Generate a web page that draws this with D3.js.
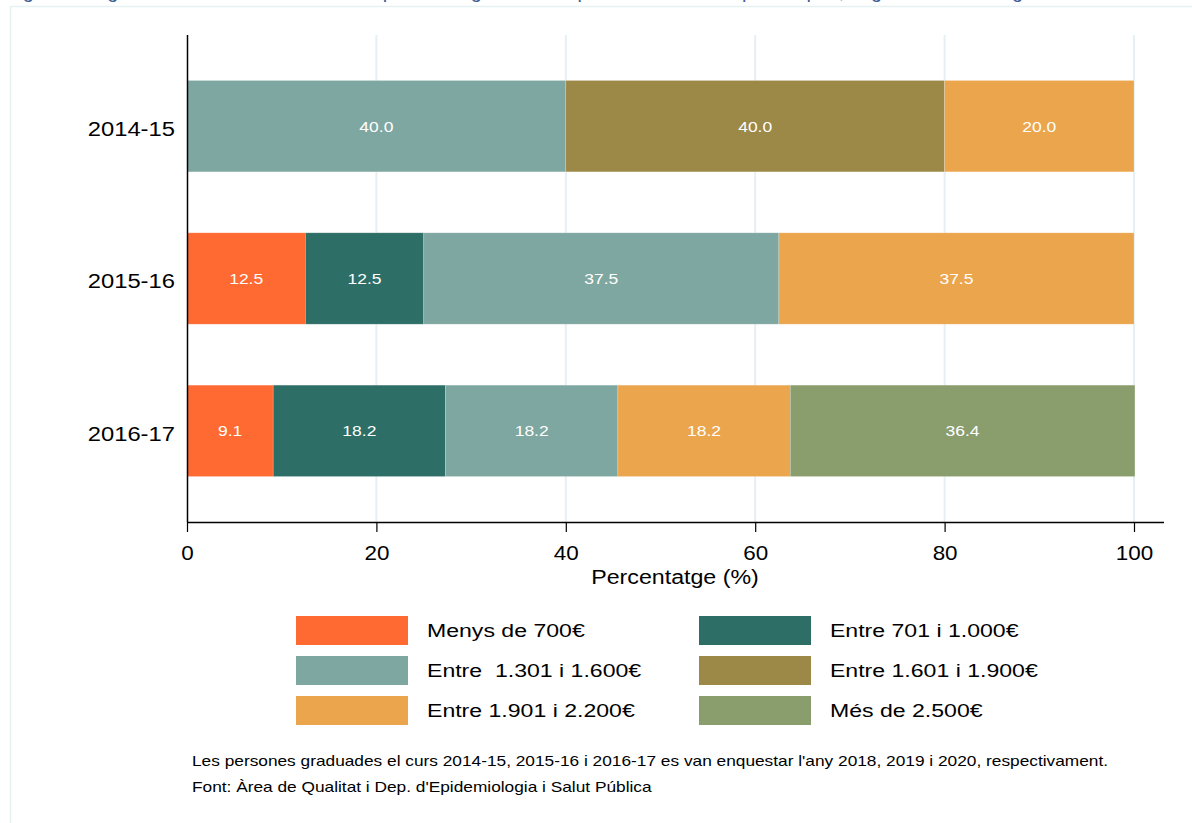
<!DOCTYPE html>
<html>
<head>
<meta charset="utf-8">
<script src="https://cdn.jsdelivr.net/npm/d3@7"></script>
<style>
  html, body { margin: 0; padding: 0; background: #ffffff; }
  svg { display: block; font-family: "Liberation Sans", Arial, sans-serif; }
</style>
</head>
<body>
<svg id="chart" width="1192" height="823"></svg>
<script>
// ---- Data ----
const years = ["2014-15", "2015-16", "2016-17"];
const categories = [
  "Menys de 700€",
  "Entre 701 i 1.000€",
  "Entre  1.301 i 1.600€",
  "Entre 1.601 i 1.900€",
  "Entre 1.901 i 2.200€",
  "Més de 2.500€"
];
const colors = ["#FF6A33", "#2D6E66", "#7FA7A1", "#9C8847", "#EBA64D", "#8A9D6D"];
// values per category, one per year (2014-15, 2015-16, 2016-17)
const menys700   = [0, 12.5, 9.1];
const e701_1000  = [0, 12.5, 18.2];
const e1301_1600 = [40.0, 37.5, 18.2];
const e1601_1900 = [40.0, 0, 0];
const e1901_2200 = [20.0, 37.5, 18.2];
const mes2500    = [0, 0, 36.4];
const seriesValues = [menys700, e701_1000, e1301_1600, e1601_1900, e1901_2200, mes2500];
const xTicks = [0, 20, 40, 60, 80, 100];
const xTitle = "Percentatge (%)";
const titleText = "Figura 9. Ingressos mensuals bruts de les persones graduades que treballen a temps complet, segons el curs de graduació";
const notes = [
  "Les persones graduades el curs 2014-15, 2015-16 i 2016-17 es van enquestar l'any 2018, 2019 i 2020, respectivament.",
  "Font: Àrea de Qualitat i Dep. d'Epidemiologia i Salut Pública"
];

// ---- helpers ----
// horizontally stretch text around its anchor point
function stretch(sel, sx) {
  sel.each(function () {
    const t = d3.select(this);
    const x0 = +t.attr("x") || 0, y0 = +t.attr("y") || 0;
    t.attr("transform", `translate(${x0},${y0}) scale(${sx},1) translate(${-x0},${-y0})`);
  });
}

// ---- Layout ----
const svg = d3.select("#chart");
const W = 1192, H = 823;
const plot = { left: 187, right: 1134, top: 35, bottom: 522 };

// border box
svg.append("rect")
  .attr("x", 10.5).attr("y", 6.5)
  .attr("width", W + 10).attr("height", H + 10)
  .attr("fill", "none").attr("stroke", "#e8f1f1").attr("stroke-width", 1.5);

// cut-off title
svg.append("text")
  .attr("x", 6).attr("y", -2)
  .attr("fill", "#3f5f96")
  .attr("font-size", 20)
  .text(titleText);

const x = d3.scaleLinear().domain([0, 100]).range([plot.left, plot.right]);
const y = d3.scaleBand().domain(years).range([50, 507]).paddingInner(0.4).paddingOuter(0.2);

// grid lines
svg.append("g").selectAll("line")
  .data(xTicks.filter(d => d > 0))
  .join("line")
  .attr("x1", d => x(d)).attr("x2", d => x(d))
  .attr("y1", plot.top).attr("y2", plot.bottom)
  .attr("stroke", "#e6eff3").attr("stroke-width", 2);

// stacked data
const stackRows = years.map((yr, i) => {
  const row = { year: yr };
  categories.forEach((c, j) => { row[c] = seriesValues[j][i]; });
  return row;
});
const stacked = d3.stack().keys(categories)(stackRows);

const barG = svg.append("g");
stacked.forEach((layer, j) => {
  const g = barG.append("g");
  g.selectAll("rect")
    .data(layer.filter(d => d[1] - d[0] > 0))
    .join("rect")
    .attr("x", d => x(d[0]))
    .attr("y", d => y(d.data.year))
    .attr("width", d => x(d[1]) - x(d[0]))
    .attr("height", y.bandwidth())
    .attr("fill", colors[j])
    .attr("stroke", "#ffffff").attr("stroke-opacity", 0.35).attr("stroke-width", 0.6);
  g.selectAll("text")
    .data(layer.filter(d => d[1] - d[0] > 0))
    .join("text")
    .attr("x", d => (x(d[0]) + x(d[1])) / 2)
    .attr("y", d => y(d.data.year) + y.bandwidth() / 2 + 5.5)
    .attr("text-anchor", "middle")
    .attr("fill", "#ffffff")
    .attr("font-size", 15.5)
    .text(d => (d[1] - d[0]).toFixed(1))
    .call(stretch, 1.13);
});

// x axis
const xAxis = d3.axisBottom(x).tickValues(xTicks).tickSize(10).tickSizeOuter(0).tickFormat(d3.format("d"));
const xg = svg.append("g").attr("transform", `translate(0,${plot.bottom})`).call(xAxis);
xg.select(".domain").attr("d", `M${plot.left},0.5H1164`).attr("stroke", "#000").attr("stroke-width", 1.5);
xg.selectAll(".tick line").attr("stroke", "#000").attr("stroke-width", 1.2);
xg.selectAll(".tick text").attr("font-size", 19.5).attr("font-family", "Liberation Sans, Arial, sans-serif")
  .attr("fill", "#000").attr("y", 31).attr("dy", "0.35em").call(stretch, 1.15);

const xt = svg.append("text")
  .attr("x", 675).attr("y", 584)
  .attr("text-anchor", "middle")
  .attr("font-size", 19.5).attr("fill", "#000")
  .text(xTitle);
stretch(xt, 1.19);

// y axis
const yAxis = d3.axisLeft(y).tickSize(0).tickPadding(12);
const yg = svg.append("g").attr("transform", `translate(${plot.left},0)`).call(yAxis);
yg.select(".domain").attr("d", `M0.5,${plot.top}V${plot.bottom}`).attr("stroke", "#000").attr("stroke-width", 1.5);
yg.selectAll(".tick text").attr("font-size", 19.5).attr("font-family", "Liberation Sans, Arial, sans-serif")
  .attr("fill", "#000").attr("dy", "0.5em").call(stretch, 1.22);

// legend
const legX = [296, 699];
const legRowY = [616, 656, 696];
const legend = svg.append("g");
categories.forEach((c, j) => {
  const col = j % 2, row = Math.floor(j / 2);
  legend.append("rect")
    .attr("x", legX[col]).attr("y", legRowY[row])
    .attr("width", 112).attr("height", 29)
    .attr("fill", colors[j]);
  const t = legend.append("text")
    .attr("x", legX[col] + 131).attr("y", legRowY[row] + 21.5)
    .attr("font-size", 19).attr("fill", "#000")
    .attr("xml:space", "preserve")
    .style("white-space", "pre")
    .text(c);
  stretch(t, 1.215);
});

// notes
notes.forEach((n, i) => {
  const t = svg.append("text")
    .attr("x", 192).attr("y", 766 + i * 26)
    .attr("font-size", 14).attr("fill", "#000")
    .text(n);
  stretch(t, 1.236);
});
</script>
</body>
</html>
